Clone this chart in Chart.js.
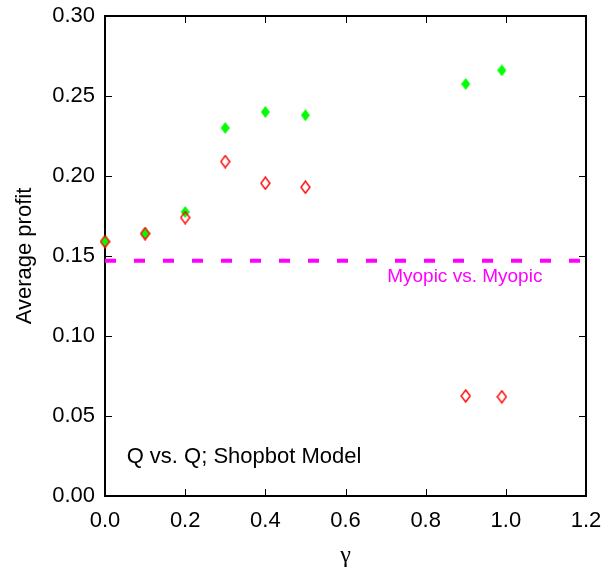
<!DOCTYPE html>
<html><head><meta charset="utf-8">
<script src="https://cdn.jsdelivr.net/npm/chart.js@4/dist/chart.umd.min.js"></script>
<style>html,body{margin:0;padding:0;background:#fff;} #wrap{width:615px;height:570px;position:relative;}</style>
</head><body><div id="wrap"><canvas id="c"></canvas></div>
<script>
// ---- data ----
const gammaValues = [0.0, 0.1, 0.2, 0.3, 0.4, 0.5, 0.9, 0.99];
const profitFilled = [0.159, 0.164, 0.1775, 0.230, 0.240, 0.238, 0.2575, 0.266]; // green filled diamonds
const profitOpen = [0.159, 0.164, 0.174, 0.209, 0.1955, 0.193, 0.0625, 0.062];   // red open diamonds
const myopicLevel = 0.147;
const myopicRange = [0.0, 1.2];
const xTicks = [0.0, 0.2, 0.4, 0.6, 0.8, 1.0, 1.2];
const yTicks = [0.00, 0.05, 0.10, 0.15, 0.20, 0.25, 0.30];
const myopicLabel = "Myopic vs. Myopic";
const modelLabel = "Q vs. Q; Shopbot Model";
const xTitle = "γ";
const yTitle = "Average profit";

const FONT = "'Liberation Sans', Arial, Helvetica, sans-serif";

function diamond(w, h, fill, stroke, lw) {
  const c = document.createElement('canvas');
  c.width = w; c.height = h;
  const g = c.getContext('2d');
  const m = stroke ? lw / 2 + 0.3 : 0;
  g.beginPath();
  g.moveTo(w / 2, m);
  g.lineTo(w - m, h / 2);
  g.lineTo(w / 2, h - m);
  g.lineTo(m, h / 2);
  g.closePath();
  if (fill) { g.fillStyle = fill; g.fill(); }
  if (stroke) { g.strokeStyle = stroke; g.lineWidth = lw; g.stroke(); }
  return c;
}
const greenDiamond = diamond(9, 12, '#00ff00', null, 0);
const redDiamond = diamond(11, 14, null, '#ff0000', 1.4);

const framePlugin = {
  id: 'frame',
  beforeDatasetsDraw(chart) {
    const { ctx, chartArea: a, scales: { x, y } } = chart;
    ctx.save();
    ctx.strokeStyle = '#000';
    ctx.lineWidth = 1;
    const tl = 7;
    ctx.beginPath();
    xTicks.forEach(v => {
      if (v <= x.min || v >= x.max) return;
      const px = Math.round(x.getPixelForValue(v)) + 0.5;
      ctx.moveTo(px, a.bottom); ctx.lineTo(px, a.bottom - tl);
      ctx.moveTo(px, a.top); ctx.lineTo(px, a.top + tl);
    });
    yTicks.forEach(v => {
      if (v <= y.min || v >= y.max) return;
      const py = Math.round(y.getPixelForValue(v)) + 0.5;
      ctx.moveTo(a.left, py); ctx.lineTo(a.left + tl, py);
      ctx.moveTo(a.right, py); ctx.lineTo(a.right - tl, py);
    });
    ctx.stroke();
    ctx.lineWidth = 2;
    ctx.strokeRect(a.left, a.top, a.right - a.left, a.bottom - a.top);
    // annotations
    ctx.fillStyle = '#ff00ff';
    ctx.font = '19px ' + FONT;
    ctx.textBaseline = 'alphabetic';
    ctx.textAlign = 'left';
    ctx.fillText(myopicLabel, x.getPixelForValue(0.704), y.getPixelForValue(0.134));
    ctx.fillStyle = '#000';
    ctx.font = '22px ' + FONT;
    ctx.fillText(modelLabel, x.getPixelForValue(0.054), y.getPixelForValue(0.0206));
    ctx.restore();
  }
};

new Chart(document.getElementById('c'), {
  type: 'scatter',
  data: {
    datasets: [
      {
        label: 'open',
        data: gammaValues.map((g, i) => ({ x: g, y: profitOpen[i] })),
        pointStyle: redDiamond,
        clip: false,
        order: 0
      },
      {
        label: 'filled',
        data: gammaValues.map((g, i) => ({ x: g, y: profitFilled[i] })),
        pointStyle: greenDiamond,
        clip: false,
        order: 1
      },
      {
        type: 'line',
        label: 'myopic',
        data: myopicRange.map(g => ({ x: g, y: myopicLevel })),
        borderColor: '#ff00ff',
        borderWidth: 4,
        borderDash: [11, 18],
        pointRadius: 0,
        fill: false,
        order: 2
      }
    ]
  },
  options: {
    responsive: true,
    maintainAspectRatio: false,
    animation: false,
    events: [],
    layout: { padding: { top: 16, right: 29, left: 0, bottom: 0 } },
    plugins: { legend: { display: false }, tooltip: { enabled: false } },
    scales: {
      x: {
        type: 'linear', min: 0, max: 1.2,
        afterBuildTicks: s => { s.ticks = xTicks.map(v => ({ value: v })); },
        afterFit: s => { s.height = 74; s.paddingLeft = 0; s.paddingRight = 0; },
        grid: { display: false, drawTicks: false },
        border: { display: false },
        ticks: { color: '#000', font: { family: FONT, size: 22 }, padding: 12, maxRotation: 0,
                 callback: v => Number(v).toFixed(1) },
        title: { display: true, text: xTitle, color: '#000', font: { family: "'Liberation Serif', 'DejaVu Serif', serif", size: 24 }, padding: { top: 0, bottom: 0 } }
      },
      y: {
        type: 'linear', min: 0, max: 0.3,
        afterBuildTicks: s => { s.ticks = yTicks.map(v => ({ value: v })); },
        afterFit: s => { s.width = 105; s.paddingTop = 0; s.paddingBottom = 0; },
        grid: { display: false, drawTicks: false },
        border: { display: false },
        ticks: { color: '#000', font: { family: FONT, size: 22 }, padding: 10,
                 callback: v => Number(v).toFixed(2) },
        title: { display: true, text: yTitle, color: '#000', font: { family: FONT, size: 22 }, padding: { top: 12, bottom: 0 } }
      }
    }
  },
  plugins: [framePlugin]
});
</script>
</body></html>
